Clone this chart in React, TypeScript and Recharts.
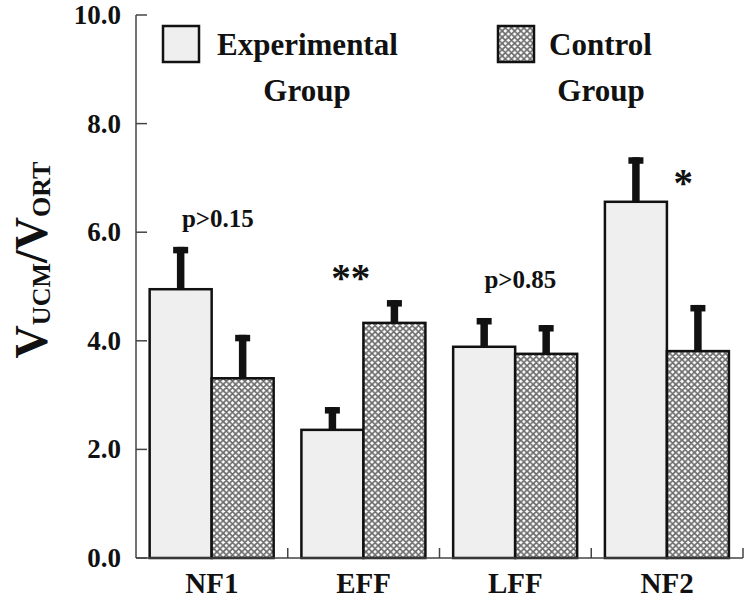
import React from 'react';
import { BarChart, Bar, XAxis, YAxis, Legend, ReferenceDot } from 'recharts';

const categories = ['NF1', 'EFF', 'LFF', 'NF2'];
const expMeans = [4.95, 2.36, 3.89, 6.56];
const expErrors = [0.78, 0.42, 0.53, 0.82];
const ctrlMeans = [3.31, 4.33, 3.76, 3.81];
const ctrlErrors = [0.8, 0.42, 0.53, 0.85];
const yTicks = [0, 2, 4, 6, 8, 10];
const annotationTexts = ['p>0.15', '**', 'p>0.85', '*'];
const annotationValues = [6.1, 4.92, 4.97, 6.67];
const legendLabels = ['Experimental', 'Control'];
const legendSubLabels = ['Group', 'Group'];

const data = categories.map((c, i) => ({
  category: c,
  exp: expMeans[i],
  expErr: expErrors[i],
  ctrl: ctrlMeans[i],
  ctrlErr: ctrlErrors[i],
}));

const FONT = '"Liberation Serif", "Times New Roman", serif';
const INK = '#111';
const EXP_FILL = '#efefef';
const ANNOT_DX = [6, -13, 5, 16];

const P = 6.2;
const HatchPattern = ({ id }: { id: string }) => (
  <pattern id={id} patternUnits="userSpaceOnUse" width={P} height={P}>
    <rect x={0} y={0} width={P} height={P} fill="#ffffff" />
    <path
      d={`M${-P},${-P} L${2 * P},${2 * P} M${-P},0 L${P},${2 * P} M0,${-P} L${2 * P},${P} M${-P},${P} L${P},${-P} M${-P},${2 * P} L${2 * P},${-P} M0,${2 * P} L${2 * P},0`}
      stroke="#6a6a6a"
      strokeWidth={1.7}
      fill="none"
    />
  </pattern>
);

const makeShape = (fill: string, valueKey: string, errKey: string) => (props: any) => {
  const { x, y, width, height, payload } = props;
  const v = payload[valueKey];
  const e = payload[errKey];
  const pxPerUnit = v ? height / v : 0;
  const errTop = y - e * pxPerUnit;
  const cx = x + width / 2;
  return (
    <g>
      <rect x={x} y={y} width={width} height={height} fill={fill} stroke={INK} strokeWidth={2.5} />
      <rect x={cx - 3.75} y={errTop} width={7.5} height={y - errTop} fill={INK} />
      <rect x={cx - 7.5} y={errTop} width={15} height={6.5} fill={INK} />
    </g>
  );
};

const YTick = (props: any) => {
  const { x, y, payload } = props;
  return (
    <g>
      <line x1={x} x2={x + 11} y1={y} y2={y} stroke="#444" strokeWidth={1.5} />
      <text x={x - 15} y={y + 9} textAnchor="end" fontFamily={FONT} fontWeight="bold" fontSize={27} fill={INK}>
        {Number(payload.value).toFixed(1)}
      </text>
    </g>
  );
};

const XTick = (props: any) => {
  const { x, y, payload } = props;
  const half = payload.offset ?? 0;
  const bx = payload.coordinate + half;
  return (
    <g>
      <line x1={bx} x2={bx} y1={y} y2={y - 10} stroke="#444" strokeWidth={1.5} />
      <text x={x} y={y + 35} textAnchor="middle" fontFamily={FONT} fontWeight="bold" fontSize={29} fill={INK}>
        {payload.value}
      </text>
    </g>
  );
};

const YLabel = () => {
  const cx = 47;
  const cy = 260;
  return (
    <text
      x={cx}
      y={cy}
      transform={`rotate(-90, ${cx}, ${cy})`}
      textAnchor="middle"
      fontFamily={FONT}
      fontWeight="bold"
      fill={INK}
    >
      <tspan fontSize={46}>V</tspan>
      <tspan fontSize={26} dy={3}>UCM</tspan>
      <tspan fontSize={46} dy={-3}>/V</tspan>
      <tspan fontSize={26} dy={3}>ORT</tspan>
    </text>
  );
};

const renderLegend = () => (
  <svg width={752} height={110} style={{ position: 'absolute', left: 0, top: 0 }}>
    <defs>
      <HatchPattern id="hatchLegend" />
    </defs>
    <rect x={163} y={26} width={36} height={36} fill={EXP_FILL} stroke={INK} strokeWidth={2.5} />
    <text x={217} y={55} fontFamily={FONT} fontWeight="bold" fontSize={31} fill={INK}>{legendLabels[0]}</text>
    <text x={307} y={101} textAnchor="middle" fontFamily={FONT} fontWeight="bold" fontSize={31} fill={INK}>{legendSubLabels[0]}</text>
    <rect x={498} y={26} width={36} height={36} fill="url(#hatchLegend)" stroke={INK} strokeWidth={2.5} />
    <text x={549} y={55} fontFamily={FONT} fontWeight="bold" fontSize={31} fill={INK}>{legendLabels[1]}</text>
    <text x={601} y={101} textAnchor="middle" fontFamily={FONT} fontWeight="bold" fontSize={31} fill={INK}>{legendSubLabels[1]}</text>
  </svg>
);

const makeAnnotation = (i: number) => (props: any) => {
  const { cx, cy } = props;
  const isStar = annotationTexts[i].startsWith('*');
  return (
    <text
      x={cx + ANNOT_DX[i]}
      y={cy}
      textAnchor="middle"
      fontFamily={FONT}
      fontWeight="bold"
      fontSize={isStar ? 39 : 25}
      fill={INK}
    >
      {annotationTexts[i]}
    </text>
  );
};

export default function App() {
  return (
    <div style={{ position: 'absolute', left: 0, top: 0, width: 752, height: 602, background: '#fff' }}>
      <BarChart
        width={752}
        height={602}
        data={data}
        margin={{ top: 15, right: 9, left: 0, bottom: 0 }}
        barCategoryGap="9%"
        barGap={0}
      >
        <defs>
          <HatchPattern id="hatchBar" />
        </defs>
        <XAxis
          dataKey="category"
          height={44}
          axisLine={{ stroke: '#444', strokeWidth: 1.5 }}
          tickLine={false}
          tickSize={0}
          tickMargin={0}
          tick={<XTick />}
          interval={0}
        />
        <YAxis
          type="number"
          domain={[0, 10]}
          ticks={yTicks}
          width={136}
          axisLine={{ stroke: '#444', strokeWidth: 1.5 }}
          tickLine={false}
          tickSize={0}
          tickMargin={0}
          tick={<YTick />}
          label={{ content: <YLabel /> }}
        />
        <Legend
          content={renderLegend}
          layout="horizontal"
          verticalAlign="middle"
          wrapperStyle={{ position: 'absolute', left: 0, top: 0, width: 752, height: 110 }}
        />
        <Bar dataKey="exp" name="Experimental Group" isAnimationActive={false} shape={makeShape(EXP_FILL, 'exp', 'expErr')} />
        <Bar dataKey="ctrl" name="Control Group" isAnimationActive={false} shape={makeShape('url(#hatchBar)', 'ctrl', 'ctrlErr')} />
        {categories.map((c, i) => (
          <ReferenceDot
            key={c}
            x={c}
            y={annotationValues[i]}
            r={0}
            isFront
            shape={makeAnnotation(i)}
          />
        ))}
      </BarChart>
    </div>
  );
}
